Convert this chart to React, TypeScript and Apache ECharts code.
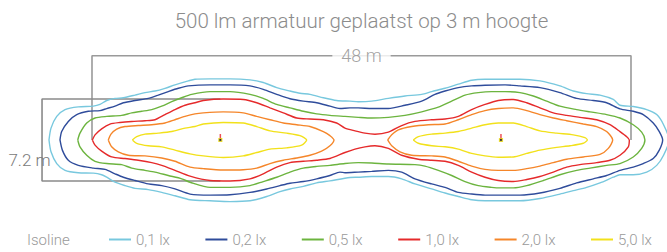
import React, { useEffect, useRef } from "react";
import * as echarts from "echarts";

// Isoline levels (lux) and their colours
const levelNames = ["0,1 lx", "0,2 lx", "0,5 lx", "1,0 lx", "2,0 lx", "5,0 lx"];
const levelColors = ["#78c8de", "#2f4c9b", "#6cb43f", "#e52a2b", "#f5862a", "#f2e11b"];

// Isoline polygons, [x (m), y (m)] ; x measured from the start of the 48 m span, y from the axis
const iso01: number[][] = [
  [-3.83, 0], [-3.65, 1.04], [-3.14, 2.07], [-2.4, 2.67], [-1.22, 2.91], [0.12, 2.97], [0.71, 3.12], [1.31, 3.47],
  [2.05, 3.65], [2.79, 3.71], [3.83, 3.94], [4.72, 4.16], [5.61, 4.3], [6.5, 4.54], [7.39, 4.84], [8.58, 5.19],
  [9.17, 5.34], [10.51, 5.37], [12.29, 5.37], [14.07, 5.28], [15.25, 5.05], [16.45, 4.6], [17.63, 4.3], [18.52, 4.1],
  [19.41, 4.01], [20.6, 3.71], [21.79, 3.47], [22.97, 3.41], [23.71, 3.36], [24.91, 3.41], [26.39, 3.65], [27.87, 3.86],
  [29.36, 4.01], [30.25, 4.25], [31.44, 4.54], [32.62, 4.9], [33.81, 5.25], [35.0, 5.34], [36.78, 5.34], [38.11, 5.34],
  [39.89, 5.19], [41.67, 4.75], [42.86, 4.3], [44.05, 4.07], [45.24, 3.94], [46.42, 3.56], [47.02, 3.05], [48.2, 2.94],
  [49.4, 2.67], [50.29, 2.23], [50.9, 1.34], [51.4, 0],
  [50.9, -1.34], [50.29, -2.23], [49.4, -2.82], [48.2, -3.05], [47.02, -3.05], [46.42, -3.27], [45.24, -3.77],
  [44.05, -4.16], [42.86, -4.45], [41.67, -4.75], [39.89, -5.14], [38.11, -5.34], [36.78, -5.34], [35.0, -5.34],
  [33.81, -5.25], [32.62, -4.96], [31.44, -4.66], [30.25, -4.3], [28.76, -3.86], [27.58, -3.41], [26.39, -3.21],
  [24.91, -3.21], [23.71, -3.27], [22.97, -3.29], [21.19, -3.59], [20.01, -3.77], [18.82, -4.07], [17.63, -4.3],
  [16.74, -4.54], [15.56, -4.96], [14.07, -5.34], [12.29, -5.41], [10.51, -5.34], [8.73, -5.25], [7.39, -4.9],
  [6.21, -4.6], [5.01, -4.36], [3.83, -4.25], [2.94, -4.01], [2.05, -3.71], [1.31, -3.27], [0.86, -3.05], [0.12, -2.91],
  [-1.22, -2.88], [-2.4, -2.67], [-3.14, -2.07], [-3.65, -1.04], [-3.83, 0],
];

const iso02: number[][] = [
  [-2.85, 0], [-2.7, 0.74], [-2.11, 1.63], [-1.36, 2.23], [-0.33, 2.52], [0.71, 2.58], [1.31, 2.76], [2.05, 2.97],
  [2.79, 3.27], [3.83, 3.47], [5.01, 3.65], [5.9, 3.94], [6.79, 4.25], [7.69, 4.54], [8.58, 4.75], [10.51, 4.84],
  [12.29, 4.84], [14.07, 4.75], [15.25, 4.45], [16.45, 4.01], [17.63, 3.62], [18.82, 3.41], [20.01, 3.27], [21.19, 2.97],
  [22.08, 2.76], [22.97, 2.82], [23.71, 2.82], [24.91, 2.76], [26.39, 2.76], [27.87, 3.05], [29.36, 3.41], [30.54, 4.01],
  [31.44, 4.3], [32.62, 4.6], [33.81, 4.75], [35.0, 4.81], [36.78, 4.84], [38.11, 4.75], [39.89, 4.6], [41.67, 4.16],
  [43.16, 3.65], [44.64, 3.47], [45.83, 3.27], [47.02, 2.73], [48.2, 2.52], [49.09, 2.23], [49.98, 1.49], [50.52, 0.74],
  [50.82, 0],
  [50.52, -0.89], [49.98, -1.63], [49.09, -2.07], [48.2, -2.38], [47.02, -2.67], [45.83, -3.12], [44.64, -3.41],
  [43.16, -3.77], [41.67, -4.25], [39.89, -4.66], [38.11, -4.84], [36.78, -4.84], [35.0, -4.84], [33.81, -4.75],
  [32.62, -4.6], [31.44, -4.16], [30.25, -3.86], [28.76, -3.41], [27.58, -2.82], [26.39, -2.67], [24.91, -2.76],
  [23.71, -2.82], [22.53, -2.88], [22.08, -2.82], [21.19, -3.12], [20.01, -3.41], [18.82, -3.65], [17.63, -3.8],
  [16.74, -4.01], [15.56, -4.3], [14.07, -4.6], [12.29, -4.81], [10.51, -4.84], [8.73, -4.75], [7.39, -4.3],
  [6.21, -4.01], [5.01, -3.86], [3.83, -3.56], [2.79, -3.27], [2.05, -2.97], [1.16, -2.58], [0.12, -2.47],
  [-1.22, -2.23], [-2.11, -1.78], [-2.64, -0.89], [-2.85, 0],
];

const iso05: number[][] = [
  [-1.27, 0], [-1.07, 0.6], [-0.47, 1.49], [0.27, 1.93], [1.31, 2.07], [2.64, 2.16], [3.54, 2.38], [4.43, 2.52],
  [5.32, 2.67], [6.21, 2.97], [7.1, 3.36], [7.99, 3.71], [8.88, 4.01], [10.51, 4.25], [12.29, 4.25], [14.07, 4.01],
  [15.25, 3.65], [16.45, 3.12], [17.63, 2.82], [18.82, 2.52], [20.01, 2.29], [21.19, 2.16], [22.53, 2.07], [23.71, 1.99],
  [24.91, 1.93], [26.39, 1.99], [27.87, 2.16], [29.36, 2.47], [30.84, 2.88], [32.03, 3.41], [33.22, 3.94], [34.4, 4.16],
  [35.59, 4.25], [36.78, 4.25], [38.11, 4.16], [39.3, 3.86], [40.49, 3.41], [41.67, 2.97], [43.16, 2.67], [44.35, 2.47],
  [45.83, 2.23], [47.02, 1.93], [48.2, 1.34], [48.95, 0.69], [49.24, 0],
  [48.95, -0.74], [48.2, -1.49], [47.02, -2.07], [45.83, -2.23], [44.35, -2.47], [43.16, -2.67], [41.67, -3.05],
  [40.19, -3.56], [38.71, -4.01], [37.52, -4.21], [36.33, -4.21], [35.59, -4.16], [34.4, -4.01], [33.22, -3.65],
  [32.03, -3.12], [30.84, -2.67], [29.65, -2.29], [28.76, -2.16], [26.39, -2.11], [24.91, -2.02], [23.71, -1.99],
  [22.53, -2.07], [21.19, -2.23], [20.01, -2.32], [18.82, -2.47], [17.63, -2.82], [16.45, -3.27], [15.25, -3.65],
  [14.07, -4.01], [12.29, -4.16], [10.51, -4.16], [8.73, -3.71], [7.99, -3.41], [6.79, -3.12], [5.61, -2.82],
  [4.72, -2.67], [3.54, -2.47], [2.64, -2.16], [1.31, -2.07], [0.27, -1.87], [-0.47, -1.34], [-1.07, -0.6], [-1.27, 0],
];

const iso10: number[][] = [
  [0.03, 0], [0.27, 0.45], [0.86, 0.98], [1.6, 1.4], [2.49, 1.54], [3.54, 1.63], [4.72, 1.69], [5.61, 1.78],
  [6.5, 2.23], [7.39, 2.67], [8.28, 3.05], [9.17, 3.27], [9.91, 3.47], [11.69, 3.6], [13.47, 3.56], [14.67, 3.27],
  [15.85, 2.82], [17.04, 2.38], [18.23, 1.93], [19.41, 1.84], [20.6, 1.78], [21.79, 1.49], [22.53, 1.04], [23.42, 0.8],
  [24.31, 0.6], [25.2, 0.51], [26.39, 0.69], [27.58, 1.27], [28.76, 1.63], [30.25, 1.78], [31.44, 1.84], [32.62, 2.07],
  [33.81, 2.67], [35.0, 3.12], [36.18, 3.47], [37.52, 3.56], [38.71, 3.27], [39.89, 2.82], [41.08, 2.38], [42.27, 2.16],
  [43.45, 1.99], [44.94, 1.78], [46.13, 1.34], [47.02, 0.74], [47.62, 0.29], [47.85, 0],
  [47.76, -0.6], [47.02, -1.34], [46.13, -1.78], [44.94, -1.99], [43.45, -2.16], [42.27, -2.38], [41.08, -2.82],
  [39.89, -3.21], [38.71, -3.47], [37.52, -3.65], [36.18, -3.56], [35.0, -3.27], [33.81, -2.82], [32.62, -2.23],
  [31.44, -1.87], [30.25, -1.78], [29.06, -1.69], [27.58, -1.34], [26.39, -0.74], [25.2, -0.51], [24.31, -0.6],
  [23.42, -0.8], [22.53, -1.1], [21.19, -1.63], [20.01, -1.78], [18.82, -1.87], [17.63, -1.99], [16.45, -2.38],
  [15.25, -2.97], [14.07, -3.41], [12.29, -3.6], [10.51, -3.56], [8.73, -3.18], [7.39, -2.67], [6.21, -2.23],
  [5.32, -1.99], [4.12, -1.78], [2.94, -1.63], [1.75, -1.49], [0.86, -0.98], [0.27, -0.45], [0.03, 0],
];

const iso20a: number[][] = [
  [1.45, 0], [1.69, 0.51], [2.2, 0.95], [2.94, 1.18], [4.12, 1.27], [5.32, 1.34], [6.5, 1.49], [7.39, 1.78],
  [8.28, 2.07], [9.17, 2.29], [9.91, 2.38], [11.69, 2.47], [13.47, 2.38], [14.67, 2.07], [15.85, 1.78], [17.04, 1.49],
  [18.23, 1.34], [19.41, 1.18], [20.6, 0.74], [21.19, 0.38], [21.55, 0],
  [21.19, -0.51], [20.45, -0.98], [19.41, -1.34], [18.23, -1.58], [17.04, -1.78], [15.85, -2.07], [14.67, -2.47],
  [13.47, -2.61], [11.69, -2.64], [9.91, -2.52], [8.73, -2.38], [7.39, -1.87], [6.21, -1.58], [4.72, -1.4],
  [3.23, -1.34], [2.34, -1.04], [1.75, -0.6], [1.45, 0],
];

const iso20b: number[][] = [
  [26.33, 0], [26.69, 0.45], [27.28, 0.89], [28.47, 1.18], [29.95, 1.34], [31.44, 1.4], [32.62, 1.78], [33.81, 2.23],
  [35.0, 2.58], [36.18, 2.76], [37.52, 2.82], [38.71, 2.58], [39.89, 2.23], [41.08, 1.93], [42.27, 1.69], [43.75, 1.4],
  [44.94, 1.18], [45.83, 0.74], [46.37, 0],
  [45.98, -0.74], [45.24, -1.27], [43.75, -1.49], [42.27, -1.69], [41.08, -1.99], [39.89, -2.29], [38.71, -2.52],
  [37.52, -2.67], [36.18, -2.67], [35.0, -2.58], [33.81, -2.29], [32.62, -1.87], [31.44, -1.49], [30.25, -1.4],
  [28.47, -1.34], [27.43, -1.04], [26.69, -0.51], [26.33, 0],
];

const iso50a: number[][] = [
  [3.59, 0], [3.98, 0.29], [4.72, 0.51], [5.9, 0.6], [7.1, 0.74], [8.28, 1.04], [9.17, 1.18], [9.91, 1.4],
  [11.69, 1.54], [13.47, 1.49], [14.67, 1.18], [15.85, 0.8], [17.34, 0.6], [18.52, 0.38], [19.12, 0],
  [18.67, -0.45], [17.34, -0.69], [15.85, -0.8], [14.67, -1.1], [13.47, -1.4], [11.69, -1.54], [9.91, -1.4],
  [8.73, -1.22], [7.39, -0.89], [6.21, -0.6], [5.01, -0.51], [3.98, -0.29], [3.59, 0],
];

const iso50b: number[][] = [
  [28.61, 0], [29.06, 0.29], [30.25, 0.51], [31.44, 0.6], [32.62, 0.74], [33.81, 1.04], [35.0, 1.34], [36.18, 1.49],
  [37.52, 1.49], [38.71, 1.18], [39.89, 0.8], [41.38, 0.6], [42.86, 0.45], [43.9, 0.2], [44.11, 0],
  [43.75, -0.29], [42.57, -0.51], [41.38, -0.65], [39.89, -0.89], [38.71, -1.18], [37.52, -1.49], [36.18, -1.51],
  [35.0, -1.4], [33.81, -1.18], [32.62, -0.8], [31.44, -0.6], [30.25, -0.51], [29.06, -0.29], [28.61, 0],
];

// Luminaire positions (m)
const luminaires: number[][] = [[11.43, 0], [36.42, 0]];

// Dimensions
const spanLength = 48; // m
const spanWidth = 7.2; // m
const titleText = "500 lm armatuur geplaatst op 3 m hoogte";
const lengthLabel = "48 m";
const widthLabel = "7.2 m";
const legendTitle = "Isoline";

const FONT = "Roboto, 'Liberation Sans', sans-serif";

export default function App() {
  const ref = useRef<HTMLDivElement>(null);
  useEffect(() => {
    if (!ref.current) return;
    const chart = echarts.init(ref.current, undefined, { renderer: "svg" });

    const loops: { level: number; data: number[][] }[] = [
      { level: 0, data: iso01 },
      { level: 1, data: iso02 },
      { level: 2, data: iso05 },
      { level: 3, data: iso10 },
      { level: 4, data: iso20a },
      { level: 4, data: iso20b },
      { level: 5, data: iso50a },
      { level: 5, data: iso50b },
    ];

    // pixel scale: the 48 m span covers 539 px starting 92 px from the left edge
    const pxPerM = 539 / spanLength;
    const xMin = -92 / pxPerM;
    const xMax = (667 - 92) / pxPerM;
    const frameTop = 7.4;
    const dimLeft = -4.45;
    const halfW = spanWidth / 2;

    const isoSeries = loops.map((l) => ({
      type: "line",
      name: levelNames[l.level],
      data: l.data,
      showSymbol: false,
      symbol: "none",
      smooth: 0.25,
      clip: false,
      color: levelColors[l.level],
      lineStyle: { color: levelColors[l.level], width: 1.4 },
      z: 3,
      silent: true,
    }));

    const dimStyle = { color: "#9a9a9a", width: 1.6 };

    const option: any = {
      animation: false,
      grid: { left: 0, right: 0, top: 48.9, bottom: 43.7 },
      xAxis: { type: "value", min: xMin, max: xMax, show: false },
      yAxis: { type: "value", min: -6, max: 8, show: false },
      legend: levelNames.map((n, i) => ({
        data: [n],
        left: 109 + i * 96.4,
        top: 232,
        padding: 0,
        itemWidth: 22,
        itemHeight: 2,
        icon: "rect",
        selectedMode: false,
        textStyle: { color: "#9a9a9a", fontSize: 15, fontFamily: FONT, fontWeight: 300 },
      })),
      graphic: [
        {
          type: "text",
          x: 361.5,
          y: 21,
          z: 100,
          style: {
            text: titleText,
            align: "center",
            verticalAlign: "middle",
            fill: "#8c8c8c",
            fontSize: 20.5,
            fontFamily: FONT,
            fontWeight: 300,
          },
        },
        {
          type: "text",
          x: 29.5,
          y: 160,
          z: 100,
          style: {
            text: widthLabel,
            align: "center",
            verticalAlign: "middle",
            fill: "#7a7a7a",
            fontSize: 17,
            fontFamily: FONT,
            fontWeight: 300,
          },
        },
        {
          type: "text",
          x: 27,
          y: 240,
          z: 100,
          style: {
            text: legendTitle,
            align: "left",
            verticalAlign: "middle",
            fill: "#9a9a9a",
            fontSize: 15,
            fontFamily: FONT,
            fontWeight: 300,
          },
        },
      ],
      series: [
        // 48 m frame
        {
          type: "line",
          data: [[0, 0], [0, frameTop], [spanLength, frameTop], [spanLength, 0]],
          symbol: "none",
          clip: false,
          lineStyle: dimStyle,
          z: 2,
          silent: true,
        },
        // 7.2 m dimension
        {
          type: "line",
          data: [[luminaires[0][0], halfW], [dimLeft, halfW], [dimLeft, -halfW], [luminaires[0][0], -halfW]],
          symbol: "none",
          clip: false,
          lineStyle: { color: "#8a8a8a", width: 1.6 },
          z: 2,
          silent: true,
        },
        // 48 m label
        {
          type: "scatter",
          data: [[spanLength / 2, frameTop]],
          symbolSize: 0,
          clip: false,
          z: 10,
          silent: true,
          label: {
            show: true,
            position: "inside",
            formatter: lengthLabel,
            color: "#8a8a8a",
            fontSize: 18,
            fontFamily: FONT,
            fontWeight: 300,
            backgroundColor: "#ffffff",
            padding: [2, 9],
          },
        },
        ...isoSeries,
        // luminaire aiming tick
        {
          type: "scatter",
          data: luminaires,
          symbol: "rect",
          symbolSize: [1.5, 6],
          symbolOffset: [0, -3],
          itemStyle: { color: "#e8262a" },
          z: 8,
          silent: true,
        },
        // luminaire
        {
          type: "scatter",
          data: luminaires,
          symbol: "rect",
          symbolSize: 3,
          itemStyle: { color: "#111111", borderColor: "#f2e11b", borderWidth: 1.2 },
          z: 9,
          silent: true,
        },
      ],
    };

    chart.setOption(option);
    return () => chart.dispose();
  }, []);

  return (
    <div
      ref={ref}
      style={{ position: "absolute", left: 0, top: 0, width: 667, height: 252 }}
    />
  );
}
